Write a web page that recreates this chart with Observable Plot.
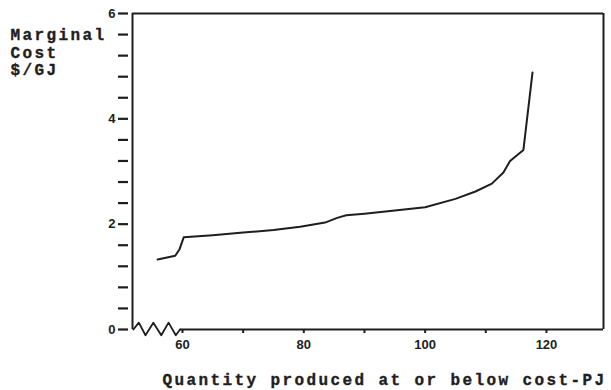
<!DOCTYPE html>
<html>
<head>
<meta charset="utf-8">
<script src="https://cdn.jsdelivr.net/npm/d3@7"></script>
<script src="https://cdn.jsdelivr.net/npm/@observablehq/plot@0.6"></script>
<style>
  html, body { margin: 0; padding: 0; background: #fff; }
  svg { display: block; }
</style>
</head>
<body>
<div id="chart"></div>
<script>
// Marginal cost curve
const quantity = [55.9, 58.8, 59.5, 60.2, 65, 70, 75, 79.4, 83.5, 85.5, 87, 90, 95, 100, 105, 108.3, 111, 112.9, 114, 116.2, 117.7];
const cost     = [1.33, 1.40, 1.52, 1.75, 1.79, 1.84, 1.89, 1.95, 2.03, 2.12, 2.17, 2.20, 2.26, 2.32, 2.48, 2.62, 2.77, 2.98, 3.20, 3.41, 4.88];

// Axis break symbol (zigzag) near the origin, in data units
const breakX = [51.9, 52.8, 53.9, 55.2, 56.5, 57.7, 58.9, 59.6];
const breakY = [0, 0.13, -0.11, 0.13, -0.11, 0.13, -0.11, 0];

// Ticks
const xTicks = [60, 70, 80, 90, 100, 110, 120];
const xLabels = [60, 80, 100, 120];
const yTicks = [0, 0.4, 0.8, 1.2, 1.6, 2, 2.4, 2.8, 3.2, 3.6, 4, 4.4, 4.8, 5.2, 5.6, 6];
const yLabels = [0, 2, 4, 6];

const xDomain = [51.76, 129.4];
const yDomain = [0, 6];

const yTitle = "Marginal\nCost\n$/GJ";
const xTitle = "Quantity produced at or below cost-PJ";

const curve = quantity.map((q, i) => ({q, c: cost[i]}));
const zig = breakX.map((x, i) => ({x, y: breakY[i]}));

const ink = "#1e1e1e";
const titleFont = {fontFamily: "'Liberation Mono', 'Courier New', monospace", fontWeight: "bold", fontSize: 16,
  className: "title-text", stroke: ink, strokeWidth: 0.35};

const plot = Plot.plot({
  width: 611,
  height: 390,
  marginLeft: 132,
  marginRight: 8,
  marginTop: 13,
  marginBottom: 61,
  x: {domain: xDomain},
  y: {domain: yDomain},
  style: {fontFamily: "'Liberation Sans', Arial, sans-serif", fontSize: "13px", fontWeight: "bold", color: ink, background: "#fff"},
  marks: [
    Plot.ruleX([xDomain[0]], {stroke: ink, strokeWidth: 2}),
    Plot.ruleX([xDomain[1]], {stroke: ink, strokeWidth: 2, y1: yDomain[0], y2: yDomain[1]}),
    Plot.ruleY([yDomain[1]], {stroke: ink, strokeWidth: 2}),
    Plot.ruleY([yDomain[0]], {x1: breakX[breakX.length - 1], x2: xDomain[1], stroke: ink, strokeWidth: 2}),
    Plot.line(zig, {x: "x", y: "y", stroke: ink, strokeWidth: 1.8, clip: false}),
    Plot.axisY({ticks: yTicks, tickSize: 10, dx: -4, tickPadding: 3, strokeWidth: 2.2,
      tickFormat: d => yLabels.includes(d) ? String(d) : "", label: null}),
    Plot.axisX({ticks: xTicks, tickSize: 4, tickPadding: 6, strokeWidth: 2,
      tickFormat: d => xLabels.includes(d) ? String(d) : "", label: null}),
    Plot.line(curve, {x: "q", y: "c", stroke: ink, strokeWidth: 2, curve: "linear"}),
    Plot.text([yTitle], {frameAnchor: "top-left", textAnchor: "start", lineAnchor: "top", dx: -122, dy: 14,
      lineHeight: 1.1, fill: ink, ...titleFont}),
    Plot.text([xTitle], {frameAnchor: "bottom-left", textAnchor: "start", lineAnchor: "bottom", dx: 30, dy: 55,
      fill: ink, ...titleFont})
  ]
});
// widen the monospace titles (Courier-like look)
d3.select(plot).selectAll("g.title-text text").attr("letter-spacing", "2.4px");
document.getElementById("chart").append(plot);
</script>
</body>
</html>
